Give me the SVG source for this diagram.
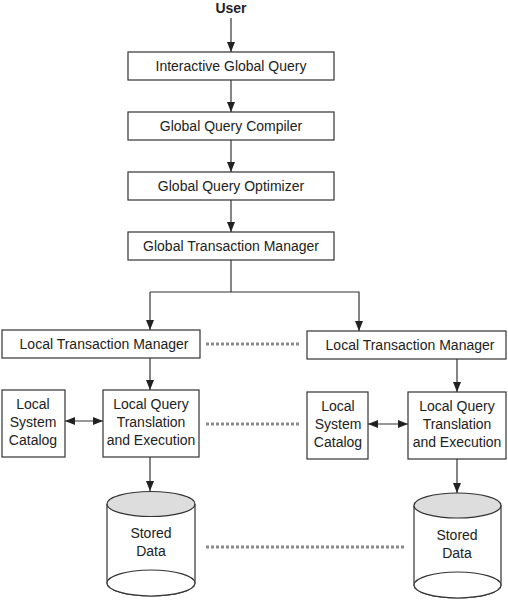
<svg xmlns="http://www.w3.org/2000/svg" width="508" height="600" viewBox="0 0 508 600">
<style>
.box{fill:#fff;stroke:#333;stroke-width:1.2}
.t{font-family:"Liberation Sans",Arial,sans-serif;font-size:14px;fill:#222;text-anchor:middle}
.ln{fill:none;stroke:#333;stroke-width:1.2}
.dot{fill:none;stroke:#8a8a8a;stroke-width:3;stroke-dasharray:3 2}
.top{fill:#ddd;stroke:#333;stroke-width:1.2}
</style>
<defs>
<marker id="ah" viewBox="0 0 10 8" refX="10" refY="4" markerWidth="10" markerHeight="8" markerUnits="userSpaceOnUse" orient="auto-start-reverse">
<path d="M0,0 L10,4 L0,8 Z" fill="#222"/>
</marker>
</defs>
<rect width="508" height="600" fill="#fff"/>
<g id="connectors">
<line class="ln" x1="231" y1="18" x2="231" y2="52" marker-end="url(#ah)"/>
<line class="ln" x1="231" y1="80" x2="231" y2="112" marker-end="url(#ah)"/>
<line class="ln" x1="231" y1="140" x2="231" y2="172" marker-end="url(#ah)"/>
<line class="ln" x1="231" y1="200" x2="231" y2="232" marker-end="url(#ah)"/>
<line class="ln" x1="231" y1="260" x2="231" y2="292"/>
<polyline class="ln" points="150,292 359,292 359,331" marker-end="url(#ah)"/>
<line class="ln" x1="150" y1="292" x2="150" y2="330" marker-end="url(#ah)"/>
<line class="ln" x1="150" y1="358" x2="150" y2="390" marker-end="url(#ah)"/>
<line class="ln" x1="457" y1="359" x2="457" y2="392" marker-end="url(#ah)"/>
<line class="ln" x1="65" y1="421" x2="103" y2="421" marker-start="url(#ah)" marker-end="url(#ah)"/>
<line class="ln" x1="368" y1="424" x2="408" y2="424" marker-start="url(#ah)" marker-end="url(#ah)"/>
<line class="ln" x1="150" y1="457" x2="150" y2="491" marker-end="url(#ah)"/>
<line class="ln" x1="457" y1="459" x2="457" y2="493" marker-end="url(#ah)"/>
<line class="dot" x1="206" y1="344" x2="299" y2="344"/>
<line class="dot" x1="206" y1="424" x2="299" y2="424"/>
<line class="dot" x1="206" y1="547" x2="404" y2="547"/>
</g>
<g id="user"><text class="t" x="231" y="13" font-weight="bold" font-size="15">User</text></g>
<g id="igq"><rect class="box" x="128" y="52" width="206" height="28"/><text class="t" x="231" y="71">Interactive Global Query</text></g>
<g id="gqc"><rect class="box" x="128" y="112" width="206" height="28"/><text class="t" x="231" y="131">Global Query Compiler</text></g>
<g id="gqo"><rect class="box" x="128" y="172" width="206" height="28"/><text class="t" x="231" y="191">Global Query Optimizer</text></g>
<g id="gtm"><rect class="box" x="128" y="232" width="206" height="28"/><text class="t" x="231" y="251">Global Transaction Manager</text></g>
<g id="ltm1"><rect class="box" x="2" y="330" width="198" height="28"/><text class="t" x="104" y="349">Local Transaction Manager</text></g>
<g id="ltm2"><rect class="box" x="307" y="331" width="199" height="28"/><text class="t" x="410" y="350">Local Transaction Manager</text></g>
<g id="lsc1"><rect class="box" x="2" y="390" width="63" height="67"/><text class="t" x="33" y="409">Local</text><text class="t" x="33" y="427">System</text><text class="t" x="33" y="445">Catalog</text></g>
<g id="lqte1"><rect class="box" x="103" y="390" width="96" height="67"/><text class="t" x="151" y="409">Local Query</text><text class="t" x="151" y="427">Translation</text><text class="t" x="151" y="445">and Execution</text></g>
<g id="lsc2"><rect class="box" x="307" y="392" width="61" height="67"/><text class="t" x="338" y="411">Local</text><text class="t" x="338" y="429">System</text><text class="t" x="338" y="447">Catalog</text></g>
<g id="lqte2"><rect class="box" x="408" y="392" width="98" height="67"/><text class="t" x="457" y="411">Local Query</text><text class="t" x="457" y="429">Translation</text><text class="t" x="457" y="447">and Execution</text></g>
<g id="sd1">
<path class="box" d="M107,504 L107,583 A44,13 0 0 0 195,583 L195,504"/>
<ellipse class="box" cx="151" cy="583" rx="44" ry="13"/>
<ellipse class="top" cx="151" cy="504" rx="44" ry="12.5"/>
<text class="t" x="151" y="538">Stored</text><text class="t" x="151" y="556">Data</text>
</g>
<g id="sd2">
<path class="box" d="M414,505.5 L414,585 A43.5,13 0 0 0 501,585 L501,505.5"/>
<ellipse class="box" cx="457.5" cy="585" rx="43.5" ry="13"/>
<ellipse class="top" cx="457.5" cy="505.5" rx="43.5" ry="12.5"/>
<text class="t" x="457" y="540">Stored</text><text class="t" x="457" y="558">Data</text>
</g>
</svg>
